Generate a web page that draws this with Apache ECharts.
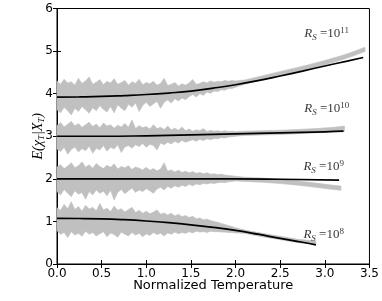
<!DOCTYPE html>
<html><head><meta charset="utf-8">
<script src="https://cdn.jsdelivr.net/npm/echarts@6/dist/echarts.min.js"></script>
<style>html,body{margin:0;padding:0;background:#fff}#c{width:382px;height:301px}</style>
</head><body><div id="c"></div>
<script>
// shared x positions of the noisy part
const NOISE_X = [0.00,0.04,0.08,0.12,0.16,0.20,0.24,0.28,0.32,0.36,0.40,0.44,0.48,0.52,0.56,0.60,0.64,0.68,0.72,0.76,0.80,0.84,0.88,0.92,0.96,1.00,1.04,1.08,1.12,1.16,1.20,1.24,1.28,1.32,1.36,1.40,1.44,1.48,1.52,1.56,1.60,1.64,1.68,1.72,1.76,1.80,1.84,1.88,1.92,1.96,2.00];

// R_S = 1e11
const HI_11 = [4.30,4.22,4.34,4.25,4.28,4.20,4.36,4.24,4.30,4.39,4.22,4.27,4.33,4.21,4.29,4.25,4.35,4.22,4.26,4.31,4.20,4.28,4.24,4.34,4.21,4.26,4.23,4.29,4.20,4.24,4.36,4.19,4.22,4.26,4.18,4.23,4.20,4.25,4.33,4.22,4.24,4.28,4.25,4.30,4.27,4.29,4.28,4.31,4.29,4.31,4.30];
const LO_11 = [3.62,3.55,3.68,3.60,3.50,3.66,3.58,3.70,3.62,3.54,3.67,3.60,3.72,3.63,3.57,3.70,3.55,3.74,3.66,3.60,3.75,3.68,3.78,3.58,3.72,3.80,3.70,3.76,3.82,3.66,3.80,3.85,3.78,3.88,3.83,3.90,3.86,3.93,3.98,3.92,4.00,3.96,4.04,4.01,4.06,4.05,4.09,4.08,4.12,4.12,4.15];
const TAIL_X_11 = [2.1,2.2,2.4,2.6,2.8,3.0,3.2,3.3,3.45];
const TAIL_HI_11 = [4.32,4.37,4.47,4.57,4.67,4.78,4.90,4.97,5.09];
const TAIL_LO_11 = [4.22,4.27,4.37,4.47,4.57,4.68,4.80,4.87,4.99];
const FIT_X_11 = [0,0.25,0.5,0.75,1.0,1.25,1.5,1.75,2.0,2.25,2.5,2.75,3.0,3.25,3.43];
const FIT_Y_11 = [3.92,3.925,3.935,3.955,3.98,4.015,4.06,4.13,4.21,4.305,4.415,4.53,4.65,4.765,4.85];

// R_S = 1e10
const HI_10 = [3.25,3.32,3.22,3.28,3.35,3.24,3.30,3.21,3.27,3.33,3.23,3.29,3.20,3.31,3.24,3.27,3.19,3.26,3.22,3.30,3.21,3.38,3.18,3.25,3.20,3.23,3.17,3.27,3.18,3.21,3.16,3.24,3.15,3.19,3.14,3.22,3.13,3.17,3.12,3.15,3.13,3.18,3.11,3.14,3.12,3.13,3.11,3.13,3.11,3.12,3.11];
const LO_10 = [2.70,2.64,2.74,2.58,2.69,2.75,2.63,2.71,2.66,2.77,2.60,2.72,2.68,2.78,2.65,2.74,2.70,2.80,2.62,2.75,2.78,2.72,2.80,2.76,2.83,2.74,2.81,2.78,2.68,2.84,2.80,2.86,2.82,2.88,2.84,2.90,2.86,2.89,2.92,2.88,2.93,2.90,2.94,2.92,2.95,2.94,2.97,2.96,2.98,2.99,3.00];
const TAIL_X_10 = [2.1,2.3,2.5,2.7,2.9,3.1,3.22];
const TAIL_HI_10 = [3.12,3.13,3.14,3.16,3.18,3.21,3.24];
const TAIL_LO_10 = [3.02,3.03,3.04,3.06,3.08,3.10,3.12];
const FIT_X_10 = [0,0.5,1.0,1.5,2.0,2.5,3.0,3.21];
const FIT_Y_10 = [3.00,3.00,3.01,3.03,3.055,3.08,3.105,3.12];

// R_S = 1e9
const HI_9 = [2.28,2.33,2.24,2.30,2.38,2.26,2.31,2.40,2.27,2.33,2.25,2.36,2.29,2.24,2.32,2.27,2.35,2.23,2.29,2.26,2.31,2.22,2.28,2.25,2.21,2.27,2.20,2.24,2.19,2.23,2.38,2.18,2.21,2.16,2.20,2.15,2.18,2.14,2.17,2.13,2.15,2.12,2.14,2.11,2.12,2.10,2.11,2.09,2.08,2.07,2.06];
const LO_9 = [1.70,1.62,1.75,1.66,1.58,1.72,1.64,1.68,1.52,1.70,1.62,1.74,1.66,1.71,1.60,1.73,1.50,1.68,1.75,1.65,1.72,1.78,1.68,1.74,1.70,1.77,1.72,1.66,1.76,1.80,1.74,1.82,1.78,1.84,1.80,1.85,1.82,1.87,1.84,1.88,1.86,1.89,1.88,1.90,1.89,1.91,1.92,1.91,1.93,1.94,1.95];
const TAIL_X_9 = [2.1,2.3,2.5,2.7,2.9,3.05,3.18];
const TAIL_HI_9 = [2.04,2.02,1.99,1.95,1.90,1.86,1.83];
const TAIL_LO_9 = [1.94,1.92,1.89,1.85,1.80,1.76,1.73];
const FIT_X_9 = [0,0.5,1.0,1.5,2.0,2.5,3.16];
const FIT_Y_9 = [2.00,2.00,2.00,2.00,2.00,1.99,1.97];

// R_S = 1e8
const HI_8 = [1.32,1.26,1.40,1.30,1.46,1.28,1.35,1.24,1.38,1.29,1.33,1.25,1.42,1.27,1.31,1.23,1.36,1.26,1.30,1.22,1.28,1.33,1.21,1.26,1.19,1.24,1.18,1.22,1.27,1.17,1.20,1.15,1.19,1.13,1.17,1.11,1.14,1.09,1.12,1.06,1.08,1.04,1.05,1.02,1.00,0.98,0.95,0.93,0.90,0.88,0.85];
const LO_8 = [0.78,0.70,0.74,0.62,0.76,0.68,0.72,0.65,0.77,0.70,0.74,0.66,0.71,0.76,0.64,0.73,0.69,0.63,0.75,0.70,0.66,0.74,0.68,0.72,0.64,0.71,0.67,0.74,0.69,0.72,0.66,0.73,0.70,0.75,0.71,0.74,0.72,0.76,0.73,0.77,0.75,0.76,0.74,0.77,0.76,0.76,0.75,0.75,0.74,0.74,0.73];
const TAIL_X_8 = [2.1,2.3,2.5,2.7,2.9];
const TAIL_HI_8 = [0.80,0.72,0.65,0.58,0.54];
const TAIL_LO_8 = [0.72,0.64,0.57,0.50,0.46];
const FIT_X_8 = [0,0.25,0.5,0.75,1.0,1.25,1.5,1.75,2.0,2.25,2.5,2.75,2.9];
const FIT_Y_8 = [1.07,1.068,1.06,1.04,1.01,0.97,0.92,0.86,0.79,0.70,0.60,0.51,0.45];

// label texts and anchor positions
const LABEL_EXP = ['11','10','9','8'];
const LABEL_X = [2.77,2.77,2.76,2.76];
const LABEL_Y = [5.40,3.64,2.28,0.68];

const GRAY = '#c0c0c0';
const bands = [
  [HI_11, LO_11, TAIL_X_11, TAIL_HI_11, TAIL_LO_11],
  [HI_10, LO_10, TAIL_X_10, TAIL_HI_10, TAIL_LO_10],
  [HI_9, LO_9, TAIL_X_9, TAIL_HI_9, TAIL_LO_9],
  [HI_8, LO_8, TAIL_X_8, TAIL_HI_8, TAIL_LO_8]
];
const fits = [[FIT_X_11,FIT_Y_11],[FIT_X_10,FIT_Y_10],[FIT_X_9,FIT_Y_9],[FIT_X_8,FIT_Y_8]];

const series = [];
series.push({
  type:'custom', coordinateSystem:'cartesian2d', silent:true, z:1,
  data: bands.map((b,i)=>[0, i]),
  renderItem: (params, api) => {
    const [hi, lo, tx, thi, tlo] = bands[params.dataIndex];
    const xs = NOISE_X.concat(tx), H = hi.concat(thi), L = lo.concat(tlo);
    const pts = [];
    for (let i = 0; i < xs.length; i++) pts.push(api.coord([xs[i], H[i]]));
    for (let i = xs.length - 1; i >= 0; i--) pts.push(api.coord([xs[i], L[i]]));
    return {type:'polygon', shape:{points:pts},
      style:{fill:GRAY, stroke:GRAY, lineWidth:0.6, lineJoin:'round'}};
  }
});
fits.forEach(([fx, fy]) => {
  series.push({type:'line', symbol:'none', smooth:true, z:5, silent:true,
    lineStyle:{width:1.7, color:'#000'}, data: fx.map((x,i)=>[x, fy[i]])});
});
series.push({type:'scatter', symbolSize:0, z:6, silent:true,
  data: LABEL_X.map((x,i)=>({value:[x, LABEL_Y[i]], exp:LABEL_EXP[i]})),
  label:{show:true, position:'right', distance:0,
    formatter: p => '{r|R}{s|S}{n| =10}{p|' + p.data.exp + '}',
    rich:{
      r:{fontFamily:'Liberation Serif', fontStyle:'italic', fontSize:13, color:'#000'},
      s:{fontFamily:'Liberation Serif', fontStyle:'italic', fontSize:9, color:'#000', padding:[7,0,0,0]},
      n:{fontFamily:'Liberation Serif', fontSize:13, color:'#000'},
      p:{fontFamily:'Liberation Serif', fontSize:9, color:'#000', padding:[0,0,7,0]}
    }}
});

const chart = echarts.init(document.getElementById('c'), null, {renderer:'canvas'});
const axFont = {fontFamily:'DejaVu Sans', fontSize:12, color:'#000'};
chart.setOption({
  animation:false,
  grid:{left:57, right:12, top:8.5, bottom:37, show:true, borderColor:'#000', borderWidth:1},
  xAxis:[
    {type:'value', min:0, max:3.5, interval:0.5, position:'bottom',
     axisLine:{show:true, lineStyle:{color:'#000'}}, splitLine:{show:false},
     axisTick:{show:true, inside:true, length:4, lineStyle:{color:'#000'}},
     axisLabel:Object.assign({margin:4, formatter:v=>v.toFixed(1)}, axFont),
     name:'Normalized Temperature', nameLocation:'middle', nameGap:15, nameMoveOverlap:false,
     nameTextStyle:{fontFamily:'DejaVu Sans', fontSize:13, color:'#000'}},
    {type:'value', min:0, max:3.5, interval:0.5, position:'top',
     axisLine:{show:true, lineStyle:{color:'#000'}}, splitLine:{show:false},
     axisTick:{show:true, inside:true, length:4, lineStyle:{color:'#000'}},
     axisLabel:{show:false}}
  ],
  yAxis:[
    {type:'value', min:0, max:6, interval:1, position:'left',
     axisLine:{show:true, lineStyle:{color:'#000'}}, splitLine:{show:false},
     axisTick:{show:true, inside:true, length:4, lineStyle:{color:'#000'}},
     axisLabel:Object.assign({margin:4}, axFont),
     name:'{i|E(χ}{s|T}{i||X}{s|T}{i|)}', nameLocation:'middle', nameGap:11, nameRotate:90,
     nameMoveOverlap:false,
     nameTextStyle:{verticalAlign:'bottom', rich:{
       i:{fontFamily:'Liberation Serif', fontStyle:'italic', fontSize:14, color:'#000'},
       s:{fontFamily:'Liberation Serif', fontStyle:'italic', fontSize:9, color:'#000', padding:[6,0,0,0]}
     }}},
    {type:'value', min:0, max:6, interval:1, position:'right',
     axisLine:{show:true, lineStyle:{color:'#000'}}, splitLine:{show:false},
     axisTick:{show:true, inside:true, length:4, lineStyle:{color:'#000'}},
     axisLabel:{show:false}}
  ],
  series: series
});
</script></body></html>
